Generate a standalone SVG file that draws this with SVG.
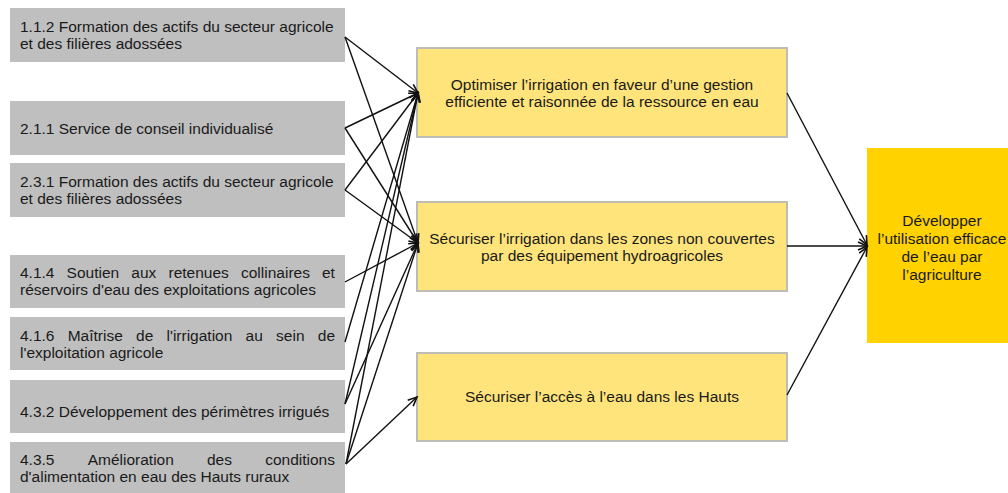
<svg xmlns="http://www.w3.org/2000/svg" width="1008" height="493" viewBox="0 0 1008 493">
<style>
  text { font-family: "Liberation Sans", Arial, sans-serif; font-size: 15.5px; fill: #1a1a1a; }
  .src { fill: #bfbfbf; }
  .mid { fill: #ffe47c; stroke: #bdbdb5; stroke-width: 2; }
  .goal { fill: #ffd200; }
  .c { text-anchor: middle; }
  .conn line { stroke: #111; stroke-width: 1.4; fill: none; marker-end: url(#ah); }
</style>
<defs>
  <marker id="ah" markerUnits="userSpaceOnUse" markerWidth="12" markerHeight="12" refX="10" refY="5" orient="auto" viewBox="0 0 12 10">
    <path d="M1,1 L10,5 L1,9" fill="none" stroke="#111" stroke-width="1.6"/>
  </marker>
</defs>
<rect width="1008" height="493" fill="#ffffff"/>

<g id="n112">
  <rect class="src" x="10" y="8" width="335" height="54"/>
  <text x="20" y="32">1.1.2 Formation des actifs du secteur agricole</text>
  <text x="20" y="49">et des filières adossées</text>
</g>
<g id="n211">
  <rect class="src" x="10" y="101" width="335" height="54"/>
  <text x="20" y="134">2.1.1 Service de conseil individualisé</text>
</g>
<g id="n231">
  <rect class="src" x="10" y="163" width="335" height="54"/>
  <text x="20" y="187">2.3.1 Formation des actifs du secteur agricole</text>
  <text x="20" y="204">et des filières adossées</text>
</g>
<g id="n414">
  <rect class="src" x="10" y="255" width="335" height="53"/>
  <text y="278"><tspan x="20">4.1.4</tspan><tspan x="66.6">Soutien</tspan><tspan x="131.3">aux</tspan><tspan x="168.5">retenues</tspan><tspan x="241">collinaires</tspan><tspan x="322">et</tspan></text>
  <text x="20" y="295">réservoirs d'eau des exploitations agricoles</text>
</g>
<g id="n416">
  <rect class="src" x="10" y="317" width="335" height="53"/>
  <text y="340.5"><tspan x="20">4.1.6</tspan><tspan x="67.7">Maîtrise</tspan><tspan x="136.1">de</tspan><tspan x="166.5">l'irrigation</tspan><tspan x="245.6">au</tspan><tspan x="276.1">sein</tspan><tspan x="317.8">de</tspan></text>
  <text x="20" y="358">l'exploitation agricole</text>
</g>
<g id="n432">
  <rect class="src" x="10" y="380" width="335" height="53"/>
  <text x="20" y="416.5">4.3.2 Développement des périmètres irrigués</text>
</g>
<g id="n435">
  <rect class="src" x="10" y="442" width="335" height="52"/>
  <text y="465"><tspan x="20">4.3.5</tspan><tspan x="87.7">Amélioration</tspan><tspan x="207">des</tspan><tspan x="265.2">conditions</tspan></text>
  <text x="20" y="482">d'alimentation en eau des Hauts ruraux</text>
</g>

<g id="m1">
  <rect class="mid" x="417" y="48" width="370" height="89"/>
  <text class="c" x="602" y="90">Optimiser l’irrigation en faveur d’une gestion</text>
  <text class="c" x="602" y="107">efficiente et raisonnée de la ressource en eau</text>
</g>
<g id="m2">
  <rect class="mid" x="417" y="202" width="370" height="89"/>
  <text class="c" x="602" y="244">Sécuriser l’irrigation dans les zones non couvertes</text>
  <text class="c" x="602" y="261">par des équipement hydroagricoles</text>
</g>
<g id="m3">
  <rect class="mid" x="417" y="353" width="370" height="88"/>
  <text class="c" x="602" y="402">Sécuriser l’accès à l’eau dans les Hauts</text>
</g>

<g id="goal">
  <rect class="goal" x="867" y="148" width="150" height="195"/>
  <text class="c" x="942" y="226">Développer</text>
  <text class="c" x="942" y="244">l’utilisation efficace</text>
  <text class="c" x="942" y="262">de l’eau par</text>
  <text class="c" x="942" y="280">l’agriculture</text>
</g>

<g id="connectors" class="conn">
  <line x1="345" y1="37" x2="418" y2="93"/>
  <line x1="345" y1="37" x2="418" y2="243"/>
  <line x1="345" y1="128" x2="418" y2="93"/>
  <line x1="345" y1="128" x2="418" y2="243"/>
  <line x1="345" y1="190" x2="418" y2="93"/>
  <line x1="345" y1="190" x2="418" y2="243"/>
  <line x1="345" y1="282" x2="418" y2="243"/>
  <line x1="345" y1="342" x2="418" y2="93"/>
  <line x1="345" y1="404" x2="418" y2="93"/>
  <line x1="345" y1="404" x2="418" y2="243"/>
  <line x1="346" y1="464" x2="418" y2="93"/>
  <line x1="346" y1="464" x2="418" y2="243"/>
  <line x1="346" y1="464" x2="417" y2="397"/>
  <line x1="787" y1="93" x2="867" y2="245"/>
  <line x1="787" y1="246" x2="867" y2="246"/>
  <line x1="787" y1="395" x2="867" y2="247"/>
</g>
</svg>
